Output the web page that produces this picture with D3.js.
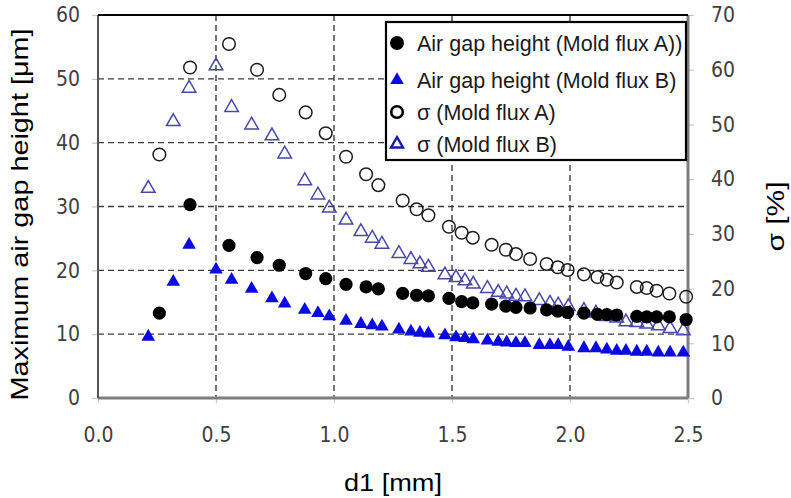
<!DOCTYPE html>
<html>
<head>
<meta charset="utf-8">
<script src="https://cdn.jsdelivr.net/npm/d3@7"></script>
<style>
  html, body { margin: 0; padding: 0; background: #fff; }
  svg { display: block; }
</style>
</head>
<body>
<div id="chart"></div>
<script>
// d1 [mm] positions, mold flux A (32 points) and mold flux B (42 points)
const d1A = [0.26, 0.39, 0.555, 0.674, 0.768, 0.88, 0.965, 1.051, 1.136, 1.188,
  1.291, 1.35, 1.4, 1.487, 1.541, 1.588, 1.668, 1.728, 1.771, 1.831,
  1.901, 1.948, 1.99, 2.059, 2.116, 2.156, 2.198, 2.283, 2.325, 2.367,
  2.421, 2.492];
const gapA = [13.3, 30.3, 23.9, 22.0, 20.8, 19.5, 18.7, 17.8, 17.4, 17.1,
  16.4, 16.1, 16.0, 15.6, 15.1, 14.9, 14.7, 14.4, 14.2, 14.1,
  13.8, 13.6, 13.4, 13.3, 13.1, 13.05, 13.0, 12.8, 12.7, 12.7,
  12.7, 12.3];
const sigmaA = [44.5, 60.4, 64.7, 60.0, 55.4, 52.2, 48.4, 44.1, 40.9, 38.9,
  36.1, 34.5, 33.4, 31.3, 30.2, 29.3, 28.0, 27.1, 26.3, 25.4,
  24.5, 23.9, 23.4, 22.6, 22.1, 21.6, 21.1, 20.3, 20.1, 19.6,
  19.1, 18.5];

const d1B = [0.213, 0.319, 0.386, 0.5, 0.566, 0.651, 0.737, 0.791, 0.876, 0.932,
  0.98, 1.051, 1.114, 1.162, 1.203, 1.275, 1.326, 1.364, 1.4, 1.47,
  1.517, 1.555, 1.59, 1.65, 1.696, 1.732, 1.771, 1.809, 1.87, 1.915,
  1.95, 1.993, 2.059, 2.11, 2.156, 2.198, 2.237, 2.283, 2.325, 2.374,
  2.424, 2.48];
const gapB = [9.6, 18.2, 24.0, 20.1, 18.5, 17.1, 15.6, 14.8, 13.8, 13.3,
  12.8, 12.1, 11.6, 11.4, 11.2, 10.7, 10.4, 10.2, 10.1, 9.8,
  9.5, 9.4, 9.2, 9.0, 8.8, 8.7, 8.6, 8.6, 8.3, 8.3,
  8.3, 8.0, 7.8, 7.8, 7.6, 7.4, 7.4, 7.25, 7.25, 7.1,
  7.1, 7.1];
const sigmaB = [38.3, 50.5, 56.6, 60.7, 53.1, 49.9, 47.9, 44.6, 39.7, 37.1,
  34.7, 32.5, 30.4, 29.2, 28.1, 26.4, 25.3, 24.5, 23.9, 22.5,
  22.0, 21.4, 20.8, 20.0, 19.3, 19.0, 18.6, 18.5, 17.8, 17.3,
  17.0, 16.7, 16.0, 15.5, 14.9, 14.6, 13.9, 13.8, 13.5, 13.2,
  12.7, 12.3];

const xTicks = [0, 0.5, 1.0, 1.5, 2.0, 2.5];
const leftTicks = [0, 10, 20, 30, 40, 50, 60];
const rightTicks = [0, 10, 20, 30, 40, 50, 60, 70];

const legendLabels = [
  'Air gap height (Mold flux A))',
  'Air gap height (Mold flux B)',
  'σ (Mold flux A)',
  'σ (Mold flux B)'
];

const width = 791, height = 498;
const margin = { top: 15, right: 103, bottom: 100, left: 98 };
const plotW = width - margin.left - margin.right;
const plotH = height - margin.top - margin.bottom;

const svg = d3.select('#chart').append('svg')
  .attr('width', width)
  .attr('height', height);

const g = svg.append('g').attr('transform', `translate(${margin.left},${margin.top})`);

const x = d3.scaleLinear().domain([0, 2.5]).range([0, plotW]);
const yL = d3.scaleLinear().domain([0, 60]).range([plotH, 0]);
const yR = d3.scaleLinear().domain([0, 70]).range([plotH, 0]);

const tickFont = '"Liberation Sans Narrow", "DejaVu Sans Condensed", sans-serif';
const titleFont = '"Liberation Sans", Arial, sans-serif';

// grid
const grid = g.append('g')
  .attr('stroke', '#3c3c3c')
  .attr('stroke-width', 1.4)
  .attr('stroke-dasharray', '6,4');
grid.selectAll('line.h')
  .data(leftTicks.filter(t => t > 0 && t < 60))
  .join('line')
  .attr('x1', 0).attr('x2', plotW)
  .attr('y1', d => yL(d)).attr('y2', d => yL(d));
grid.selectAll('line.v')
  .data(xTicks.filter(t => t > 0 && t < 2.5))
  .join('line')
  .attr('class', 'v')
  .attr('y1', 0).attr('y2', plotH)
  .attr('x1', d => x(d)).attr('x2', d => x(d));

// axes
const styleAxis = sel => {
  sel.select('.domain').remove();
  sel.selectAll('.tick line').attr('stroke', '#c8c8c8').attr('stroke-width', 1.2);
  sel.selectAll('.tick text')
    .attr('fill', '#404040')
    .attr('font-family', tickFont)
    .attr('font-size', '21px');
};

g.append('g')
  .attr('transform', `translate(0,${plotH})`)
  .call(d3.axisBottom(x).tickValues(xTicks).tickFormat(d3.format('.1f')).tickSize(5).tickPadding(24))
  .call(styleAxis);

g.append('g')
  .call(d3.axisLeft(yL).tickValues(leftTicks).tickSize(6).tickPadding(12))
  .call(styleAxis);

g.append('g')
  .attr('transform', `translate(${plotW},0)`)
  .call(d3.axisRight(yR).tickValues(rightTicks).tickSize(6).tickPadding(17))
  .call(styleAxis);

// frame
g.append('line').attr('x1', 0).attr('x2', plotW).attr('y1', plotH).attr('y2', plotH)
  .attr('stroke', '#7f7f7f').attr('stroke-width', 3);
g.append('line').attr('x1', plotW).attr('x2', plotW).attr('y1', 0).attr('y2', plotH)
  .attr('stroke', '#7f7f7f').attr('stroke-width', 3);
g.append('line').attr('x1', 0).attr('x2', 0).attr('y1', 0).attr('y2', plotH)
  .attr('stroke', '#555555').attr('stroke-width', 2);
g.append('line').attr('x1', 0).attr('x2', plotW).attr('y1', 0).attr('y2', 0)
  .attr('stroke', '#000').attr('stroke-width', 2);

// markers
const tri = d3.symbol().type(d3.symbolTriangle).size(80);
const triColor = '#0a0ae0';
const triOpen = '#4848a8';

const marks = g.append('g');

marks.append('g').selectAll('path')
  .data(d1B.map((d, i) => [d, sigmaB[i]]))
  .join('path')
  .attr('d', tri)
  .attr('transform', d => `translate(${x(d[0])},${yR(d[1])})`)
  .attr('fill', 'none')
  .attr('stroke', triOpen).attr('stroke-width', 1.5);

marks.append('g').selectAll('circle')
  .data(d1A.map((d, i) => [d, sigmaA[i]]))
  .join('circle')
  .attr('cx', d => x(d[0])).attr('cy', d => yR(d[1]))
  .attr('r', 6.3)
  .attr('fill', 'none')
  .attr('stroke', '#1e1e1e').attr('stroke-width', 1.5);

marks.append('g').selectAll('path')
  .data(d1B.map((d, i) => [d, gapB[i]]))
  .join('path')
  .attr('d', tri)
  .attr('transform', d => `translate(${x(d[0])},${yL(d[1])})`)
  .attr('fill', triColor);

marks.append('g').selectAll('circle')
  .data(d1A.map((d, i) => [d, gapA[i]]))
  .join('circle')
  .attr('cx', d => x(d[0])).attr('cy', d => yL(d[1]))
  .attr('r', 6.6)
  .attr('fill', '#000');

// legend
const lg = svg.append('g').attr('transform', 'translate(386,22)');
lg.append('rect')
  .attr('width', 300).attr('height', 138)
  .attr('fill', '#fff')
  .attr('stroke', '#000').attr('stroke-width', 2.2);

const rowY = [21, 58, 90, 122];
const legendMarks = [
  s => s.append('circle').attr('r', 7).attr('fill', '#000'),
  s => s.append('path').attr('d', tri).attr('fill', triColor),
  s => s.append('circle').attr('r', 5.8).attr('fill', 'none').attr('stroke', '#000').attr('stroke-width', 2.6),
  s => s.append('path').attr('d', d3.symbol().type(d3.symbolTriangle).size(62)).attr('fill', 'none').attr('stroke', '#1a1aa8').attr('stroke-width', 2.4)
];
legendLabels.forEach((label, i) => {
  const row = lg.append('g').attr('transform', `translate(11,${rowY[i]})`);
  legendMarks[i](row);
  row.append('text')
    .attr('x', 20).attr('dy', '0.36em')
    .attr('font-family', titleFont)
    .attr('font-size', '21.5px')
    .attr('fill', '#1a1a1a')
    .text(label);
});

// axis titles
svg.append('text')
  .attr('transform', `translate(28,${margin.top + plotH / 2 + 8}) rotate(-90)`)
  .attr('text-anchor', 'middle')
  .attr('font-family', titleFont)
  .attr('font-size', '24px')
  .attr('fill', '#000')
  .attr('textLength', 372).attr('lengthAdjust', 'spacingAndGlyphs')
  .text('Maximum air gap height [μm]');

svg.append('text')
  .attr('x', margin.left + plotW / 2).attr('y', 491)
  .attr('text-anchor', 'middle')
  .attr('font-family', titleFont)
  .attr('font-size', '23px')
  .attr('fill', '#000')
  .attr('textLength', 98).attr('lengthAdjust', 'spacingAndGlyphs')
  .text('d1 [mm]');

svg.append('text')
  .attr('transform', `translate(784,${margin.top + plotH / 2 + 10}) rotate(-90)`)
  .attr('text-anchor', 'middle')
  .attr('font-family', titleFont)
  .attr('font-size', '23px')
  .attr('fill', '#000')
  .attr('textLength', 70).attr('lengthAdjust', 'spacingAndGlyphs')
  .text('σ [%]');
</script>
</body>
</html>
